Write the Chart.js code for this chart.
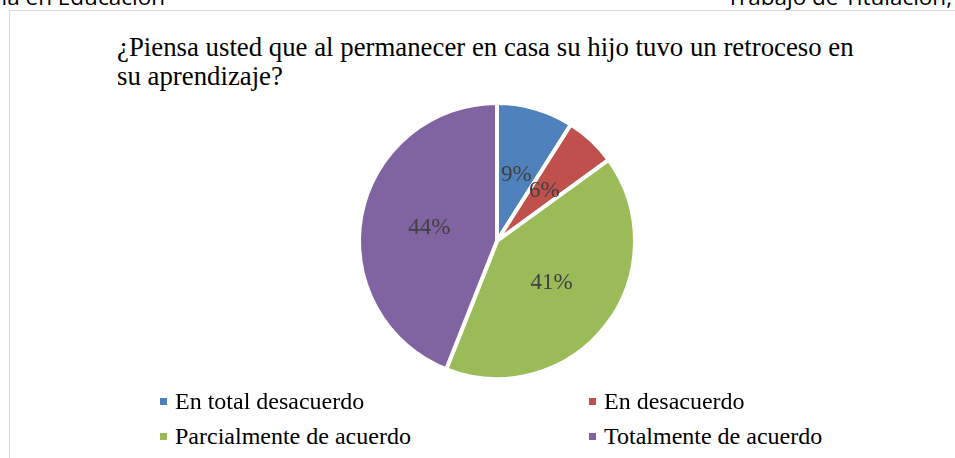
<!DOCTYPE html>
<html>
<head>
<meta charset="utf-8">
<script src="https://cdn.jsdelivr.net/npm/chart.js@4"></script>
<style>
  html, body { margin: 0; padding: 0; background: #fff; }
  body { width: 955px; height: 458px; position: relative; overflow: hidden; }
  .hdr { position: absolute; top: -13px; font-family: "Open Sans", sans-serif; font-size: 22.5px; line-height: 20px; color: #000; white-space: nowrap; }
  #frame { position: absolute; left: 9px; top: 10px; width: 960px; height: 460px; border-left: 1px solid #d9d9d9; border-top: 1px solid #d9d9d9; }
  #title { position: absolute; left: 117px; top: 33px; font-family: "Liberation Serif", serif; font-size: 26.8px; line-height: 28.5px; color: #000; white-space: nowrap; }
  #pie { position: absolute; left: 347px; top: 91px; }
  .leg { position: absolute; font-family: "Liberation Serif", serif; font-size: 24px; line-height: 26px; color: #000; white-space: nowrap; padding-left: 15px; }
  .leg span.box { position: absolute; left: 0; top: 10px; width: 7px; height: 7px; }
</style>
</head>
<body>
<div class="hdr" style="right:790px;">Maestría en Educación</div>
<div class="hdr" style="right:3px;">Trabajo de Titulación,</div>
<div id="frame"></div>
<div id="title"></div>
<canvas id="pie" width="300" height="300"></canvas>
<div id="legend"></div>
<script>
// Daten
var titleLines = ["¿Piensa usted que al permanecer en casa su hijo tuvo un retroceso en", "su aprendizaje?"];
var categories = ["En total desacuerdo", "En desacuerdo", "Parcialmente de acuerdo", "Totalmente de acuerdo"];
var percents = [9, 6, 41, 44];
var colors = ["#4f81bd", "#c0504d", "#9bbb59", "#8064a2"];

document.getElementById("title").innerHTML = titleLines.join("<br>");

// Legende (2 Spalten)
var legendPos = [[160, 388], [589, 388], [160, 423], [589, 423]];
var legend = document.getElementById("legend");
categories.forEach(function (name, i) {
  var div = document.createElement("div");
  div.className = "leg";
  div.style.left = legendPos[i][0] + "px";
  div.style.top = legendPos[i][1] + "px";
  var box = document.createElement("span");
  box.className = "box";
  box.style.background = colors[i];
  div.appendChild(box);
  div.appendChild(document.createTextNode(name));
  legend.appendChild(div);
});

// Prozent-Beschriftungen in den Segmenten
var pctLabels = {
  id: "pctLabels",
  afterDatasetsDraw: function (chart) {
    var ctx = chart.ctx;
    var meta = chart.getDatasetMeta(0);
    ctx.save();
    ctx.font = "23px 'Liberation Serif'";
    ctx.fillStyle = "#404040";
    ctx.textAlign = "center";
    ctx.textBaseline = "middle";
    meta.data.forEach(function (arc, i) {
      var p = arc.tooltipPosition();
      ctx.fillText(percents[i] + "%", p.x, p.y);
    });
    ctx.restore();
  }
};

new Chart(document.getElementById("pie"), {
  type: "pie",
  data: {
    labels: categories,
    datasets: [{
      data: percents,
      backgroundColor: colors,
      borderColor: "#ffffff",
      borderWidth: 4
    }]
  },
  options: {
    responsive: false,
    animation: false,
    radius: 138,
    layout: { padding: 0 },
    plugins: {
      legend: { display: false },
      tooltip: { enabled: false }
    }
  },
  plugins: [pctLabels]
});
</script>
</body>
</html>
